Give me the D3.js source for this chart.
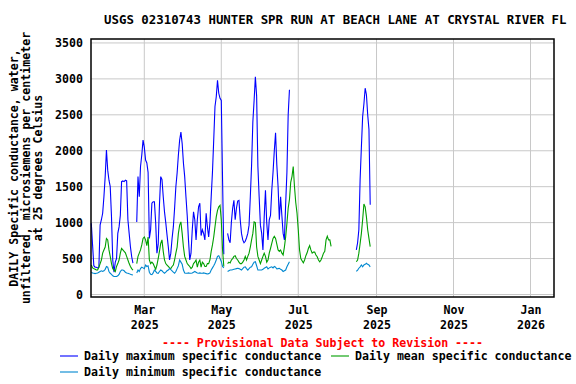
<!DOCTYPE html>
<html>
<head>
<meta charset="utf-8">
<script src="https://cdn.jsdelivr.net/npm/d3@7"></script>
<style>
body { margin: 0; background: #fff; }
svg { display: block; }
text { font-family: "DejaVu Sans Mono", "Liberation Mono", monospace; font-weight: bold; }
</style>
</head>
<body>
<svg id="chart" width="576" height="384"></svg>
<script>
// daily values (uS/cm), one per day; null = no record
var springStart = "2025-01-18";
var springMax = [
  990, 690, 400, 380, 380, 370, 380, 970, 1040, 1130,
  1360, 1640, 2010, 1730, 1590, 1500, 1080, 480, 310, 450,
  500, 850, 940, 1100, 1570, 1580, 1570, 1590, 1580, 1040,
  850, 665, 525, 435, null, null, 1010, 1640, 1360, 1780,
  1940, 2150, 2050, 1870, 1830, 1700, 780, 900, 1270, 1290,
  1290, 1000, 575, 700, 1250, 1640, 1600, 1360, 1150, 1000,
  830, 665, 480, 575, 780, 940, 1200, 1500, 1690, 1940,
  2150, 2260, 2100, 1830, 1640, 1360, 1100, 760, 480, 575,
  900, 1150, 1040, 760, 1040, 1220, 1270, 820, 900, 850,
  760, 1130, 940, 800, 1000, 1360, 1700, 2150, 2615, 2750,
  2980, 2800, 2730, 2700, 1600, 560, null, null, 850, 760,
  720, 1010, 1200, 1310, 1040, 1200, 1300, 1310, 1040, 850,
  760, 720, 740, 790, 850, 965, 1360, 1800, 2400, 2700,
  3030, 2760, 1780, 1360, 965, 850, 620, 1080, 1450, 1000,
  760, 1040, 1100, 1450, 1700, 2000, 2250, 1800, 1500, 1040,
  1360, 1100, 850, 760, 1260, 1700, 2500, 2850
];
var springMean = [
  410, 370, 360, 350, 340, 340, 380, 430, 480, 575,
  620, 660, 780, 760, 620, 530, 430, 360, 340, 320,
  390, 430, 480, 575, 640, 620, 600, 580, 530, 480,
  430, 390, 360, 340, null, null, 430, 530, 575, 620,
  690, 780, 800, 760, 680, 800, 480, 430, 450, 430,
  390, 350, 410, 500, 600, 710, 760, 600, 480, 430,
  410, 390, 370, 360, 390, 410, 480, 575, 660, 850,
  965, 1010, 850, 660, 530, 480, 430, 410, 390, 360,
  380, 430, 450, 480, 380, 450, 480, 380, 450, 430,
  390, 390, 430, 430, 480, 600, 690, 800, 940, 1080,
  1170, 1220, 1240, 1040, 620, 390, null, null, 430, 450,
  440, 480, 500, 530, 540, 500, 480, 450, 430, 430,
  450, 480, 530, 480, 530, 575, 660, 760, 850, 1010,
  1000, 660, 530, 480, 430, 480, 530, 575, 530, 450,
  480, 575, 640, 710, 780, 810, 780, 700, 620, 600,
  620, 575, 550, 660, 800, 990, 1200, 1320, 1560, 1640,
  1780, 1500, 1280, 1130, 900, 620, 500, 470, 440, 480,
  540, 580, 640, 680, 620, 575, 590, 590, 550, 525,
  480, 455, 480, 525, 575, 600, 760, 810, 760, 760,
  670
];
var springMin = [
  310, 300, 295, 290, 295, 300, 310, 320, 330, 320,
  330, 350, 390, 380, 320, 295, 280, 260, 250, 250,
  250, 260, 280, 320, 340, 340, 330, 310, 300, 295,
  290, 280, 275, 270, null, null, 300, 340, 320, 360,
  380, 370, 360, 410, 390, 400, 310, 280, 275, 300,
  340, 320, 300, 295, 320, 340, 330, 310, 295, 310,
  330, 340, 360, 345, 330, 310, 295, 320, 360, 400,
  480, 450, 420, 340, 300, 295, 295, 300, 295, 295,
  300, 310, 320, 310, 300, 295, 300, 295, 295, 300,
  295, 290, 285, 290, 300, 340, 370, 400, 435, 480,
  530, 540, 500, 460, 390, 370, null, null, 320, 330,
  340, 340, 345, 350, 355, 360, 365, 360, 350, 340,
  360, 380, 385, 360, 340, 360, 380, 385, 420, 450,
  455, 400, 340, 340, 340, 340, 350, 365, 375, 385,
  355, 370, 380, 385, 370, 390, 380, 355, 360, 365,
  350, 340, 320, 330, 340, 385, 420, 455
];
var augustStart = "2025-08-16";
var augustMax = [620, 720, 900, 1600, 2050, 2475, 2650, 2870, 2780, 2500, 2300, 1250];
var augustMean = [455, 480, 575, 710, 850, 1040, 1260, 1220, 1080, 900, 780, 665];
var augustMin = [320, 340, 365, 385, 410, 385, 410, 420, 435, 420, 410, 385];

var yTicks = [0, 500, 1000, 1500, 2000, 2500, 3000, 3500];
var monthTicks = ["2025-03-01", "2025-05-01", "2025-07-01", "2025-09-01", "2025-11-01", "2026-01-01"];
var seriesNames = ["Daily maximum specific conductance", "Daily mean specific conductance", "Daily minimum specific conductance"];
var seriesColors = ["#0000ff", "#009f00", "#0088d0"];
var titleText = "USGS 02310743 HUNTER SPR RUN AT BEACH LANE AT CRYSTAL RIVER FL";
var yTitleLines = ["DAILY Specific conductance, water,", "unfiltered, microsiemens per centimeter", "at 25 degrees Celsius"];
var provisionalText = "---- Provisional Data Subject to Revision ----";

var svg = d3.select("#chart"),
    margin = {top: 39, right: 22, bottom: 87, left: 91},
    width = +svg.attr("width") - margin.left - margin.right,
    height = +svg.attr("height") - margin.top - margin.bottom,
    g = svg.append("g").attr("transform", "translate(" + margin.left + "," + margin.top + ")");

var parseDay = d3.utcParse("%Y-%m-%d");
var x = d3.scaleUtc()
    .domain([new Date(Date.UTC(2025, 0, 17, 18, 15)), new Date(Date.UTC(2026, 0, 19, 15, 0))])
    .range([0, width]);
var y = d3.scaleLinear()
    .domain([-35, 3555])
    .range([height, 0]);

function toPoints(start, values) {
  var t0 = parseDay(start);
  return values.map(function(v, i) { return {date: d3.utcDay.offset(t0, i), value: v}; });
}
var series = [
  [toPoints(springStart, springMax), toPoints(augustStart, augustMax)],
  [toPoints(springStart, springMean), toPoints(augustStart, augustMean)],
  [toPoints(springStart, springMin), toPoints(augustStart, augustMin)]
];

// grid
g.append("g").selectAll("line")
  .data(yTicks)
  .enter().append("line")
    .attr("x1", 0).attr("x2", width)
    .attr("y1", function(d) { return y(d); })
    .attr("y2", function(d) { return y(d); })
    .attr("stroke", "#c8c8c8");
g.append("g").selectAll("line")
  .data(monthTicks.map(parseDay))
  .enter().append("line")
    .attr("y1", 0).attr("y2", height)
    .attr("x1", function(d) { return x(d); })
    .attr("x2", function(d) { return x(d); })
    .attr("stroke", "#c8c8c8");

// axes
var yAxis = g.append("g")
    .call(d3.axisLeft(y).tickValues(yTicks).tickFormat(d3.format("d")).tickSize(0).tickPadding(8));
yAxis.select(".domain").remove();
yAxis.attr("font-family", null).attr("font-size", null);
yAxis.selectAll("text").style("font-size", "11.6px").attr("fill", "#000");

var xAxis = g.append("g")
    .attr("transform", "translate(0," + height + ")")
    .call(d3.axisBottom(x).tickValues(monthTicks.map(parseDay)).tickSize(0));
xAxis.select(".domain").remove();
xAxis.attr("font-family", null).attr("font-size", null);
xAxis.selectAll("text")
    .attr("y", null).attr("dy", null)
    .style("font-size", "11.6px").attr("fill", "#000")
    .text(null)
    .each(function(d) {
      var t = d3.select(this);
      t.append("tspan").attr("x", 0).attr("y", 17).text(d3.utcFormat("%b")(d));
      t.append("tspan").attr("x", 0).attr("y", 32).text(d3.utcFormat("%Y")(d));
    });

// lines
var line = d3.line()
    .defined(function(d) { return d.value != null; })
    .x(function(d) { return x(d.date); })
    .y(function(d) { return y(d.value); });
series.forEach(function(runs, i) {
  g.append("g").selectAll("path")
    .data(runs)
    .enter().append("path")
      .attr("fill", "none")
      .attr("stroke", seriesColors[i])
      .attr("stroke-width", 1.1)
      .attr("d", line);
});

// frame
g.append("rect")
    .attr("width", width)
    .attr("height", height)
    .attr("fill", "none")
    .attr("stroke", "#000")
    .attr("stroke-width", 1.5);

// titles
svg.append("text")
    .attr("x", 104)
    .attr("y", 24)
    .style("font-size", "12.4px")
    .text(titleText);
svg.append("g").selectAll("text")
  .data(yTitleLines)
  .enter().append("text")
    .attr("transform", function(d, i) { return "translate(" + (17.5 + i * 12.4) + "," + (margin.top + height / 2) + ") rotate(-90)"; })
    .attr("text-anchor", "middle")
    .style("font-size", "11.6px")
    .text(function(d) { return d; });
svg.append("text")
    .attr("x", margin.left + width / 2)
    .attr("y", 347)
    .attr("text-anchor", "middle")
    .attr("fill", "#ff0000")
    .style("font-size", "11.6px")
    .text(provisionalText);

// legend
var legendX = [60, 331, 60], legendY = [356, 356, 372];
var legend = svg.selectAll(".legend")
  .data(seriesNames)
  .enter().append("g")
    .attr("class", "legend")
    .attr("transform", function(d, i) { return "translate(" + legendX[i] + "," + legendY[i] + ")"; });
legend.append("line")
    .attr("x1", 0).attr("x2", 18)
    .attr("stroke", function(d, i) { return seriesColors[i]; })
    .attr("stroke-width", 1.1);
legend.append("text")
    .attr("x", 24)
    .attr("dy", "0.35em")
    .style("font-size", "11.6px")
    .text(function(d) { return d; });
</script>
</body>
</html>
